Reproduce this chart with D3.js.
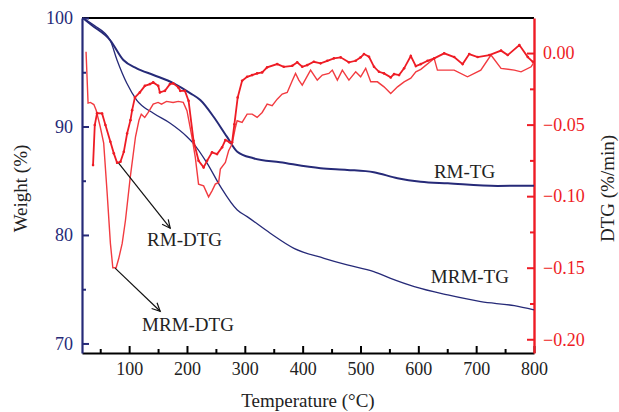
<!DOCTYPE html>
<html>
<head>
<meta charset="utf-8">
<script src="https://cdn.jsdelivr.net/npm/d3@7"></script>
<style>
  body { margin: 0; background: #fff; }
  svg text { font-family: "Liberation Serif", "Times New Roman", serif; }
</style>
</head>
<body>
<script>
// ---- data ----
const rmTgT = [20, 35, 67, 90, 113, 142, 177, 206, 223, 246, 269, 287, 315, 361, 431, 477, 523, 564, 604, 651, 737, 800]
const rmTgW = [100, 99.35, 97.97, 96.13, 95.36, 94.75, 93.98, 93.06, 92.44, 90.9, 89.06, 87.68, 87.07, 86.7, 86.15, 86.0, 85.78, 85.23, 84.91, 84.76, 84.52, 84.54]

const mrmTgT = [20, 40, 67, 79, 96, 113, 142, 171, 200, 211, 235, 258, 287, 304, 344, 385, 437, 477, 523, 552, 593, 651, 708, 766, 800]
const mrmTgW = [100, 99.3, 97.97, 96.13, 93.98, 92.44, 91.22, 90.3, 89.06, 88.45, 86.6, 84.45, 82.3, 81.69, 80.16, 78.77, 77.85, 77.24, 76.62, 76.0, 75.24, 74.47, 73.85, 73.48, 73.09]

const rmDtgT = [37.6, 40.6, 44.5, 53.2, 59, 67.6, 73.5, 79.2, 85, 90.8,
  96.5, 102.3, 105.2, 110, 118.5, 127.2, 136, 141.6, 150.3, 153.2,
  161.9, 170.5, 176.3, 185, 188.4, 196.5, 202.8, 211.4, 220.1, 228.8,
  234.7, 243.3, 252, 260.7, 266.4, 273.8, 278, 282, 287.7, 295.3,
  304, 312.7, 321.3, 330, 338.6, 356, 367.4, 382, 390.6, 399.3,
  408, 419.4, 431, 442.6, 454, 465.7, 480, 491.7, 500.3, 506,
  514.7, 523.4, 532, 540.7, 552.3, 558, 566.7, 575.4, 587, 595.7,
  604.3, 616, 627.4, 644.7, 662, 676.6, 688, 702.6, 722.7, 743,
  754.6, 774.7, 789.3, 798]
const rmDtgV = [-0.0783, -0.0503, -0.042, -0.0422, -0.0503, -0.062, -0.0701, -0.0767, -0.076, -0.069,
  -0.0562, -0.0469, -0.0399, -0.031, -0.0275, -0.0229, -0.0217, -0.0205, -0.0229, -0.0275,
  -0.0264, -0.0217, -0.0212, -0.024, -0.0264, -0.0264, -0.0334, -0.0613, -0.0753, -0.0799,
  -0.0753, -0.0694, -0.0706, -0.0659, -0.0608, -0.0624, -0.0624, -0.0497, -0.031, -0.0194,
  -0.0166, -0.0154, -0.0142, -0.0135, -0.01, -0.0077, -0.0096, -0.0089, -0.0065, -0.0096,
  -0.0084, -0.0061, -0.0072, -0.0054, -0.0037, -0.003, -0.0065, -0.0054, -0.003, -0.0007,
  -0.0026, -0.0096, -0.0131, -0.0142, -0.017, -0.0147, -0.0154, -0.0107, -0.0021, -0.0091,
  -0.0077, -0.0054, -0.0037, -0.0002, -0.0028, -0.0077, -0.0007, -0.0028, -0.0014, 0.0017,
  -0.0014, 0.0056, -0.0028, -0.0061]

const mrmDtgT = [25.5, 29, 33, 39, 43, 50, 56, 62, 67.6, 71.8,
  77.5, 82, 88, 93.6, 102, 111, 117, 121, 127, 133,
  141.6, 150, 156, 164.6, 176, 185, 193.6, 200, 208.7, 214.4,
  220, 228.8, 237.4, 243.3, 249, 254.8, 257.7, 266.4, 272, 278,
  283.7, 286.7, 295.3, 304, 312.7, 321.3, 330, 338.6, 347.3, 356,
  364.6, 373.3, 382, 387.7, 393.4, 399.3, 413.7, 425.3, 434, 445.4,
  451.3, 460, 468.6, 480, 491.7, 500.3, 509, 517.7, 529.3, 540.7,
  552.3, 564, 575.4, 587, 595.7, 604.3, 627.4, 633, 662, 685,
  708, 725.6, 743, 766, 777.6, 795, 800]
const mrmDtgV = [0.0009, -0.035, -0.0345, -0.036, -0.04, -0.0515, -0.063, -0.098, -0.133, -0.15,
  -0.15, -0.1436, -0.133, -0.117, -0.0865, -0.0585, -0.047, -0.0427, -0.045, -0.0415,
  -0.0357, -0.0345, -0.0357, -0.0338, -0.0345, -0.0338, -0.0345, -0.0403, -0.059, -0.0729,
  -0.0916, -0.0928, -0.1005, -0.0963, -0.0916, -0.0904, -0.0811, -0.0764, -0.0683, -0.0636,
  -0.052, -0.0473, -0.0485, -0.0427, -0.0427, -0.045, -0.0415, -0.0357, -0.0368, -0.0322,
  -0.0287, -0.0275, -0.0194, -0.0142, -0.0189, -0.0224, -0.0119, -0.0189, -0.0154, -0.0142,
  -0.0119, -0.0189, -0.0119, -0.0189, -0.0131, -0.0166, -0.0107, -0.0201, -0.0201, -0.0236,
  -0.0282, -0.0236, -0.0201, -0.0175, -0.0131, -0.0114, -0.0037, -0.0119, -0.0119, -0.0166,
  -0.0119, -0.0014, -0.0107, -0.0119, -0.0131, -0.0096, -0.0063]

const xTicks = [100, 200, 300, 400, 500, 600, 700, 800]
const xMinor = [50, 150, 250, 350, 450, 550, 650, 750]
const wTicks = [70, 80, 90, 100]
const wMinor = [75, 85, 95]
const dTicks = [-0.20, -0.15, -0.10, -0.05, 0.00]
const dMinor = [-0.175, -0.125, -0.075, -0.025]

// annotations: [label, arrow from T, from DTG, to T, to DTG, text T, text DTG]
const dtgNotes = [
  ['RM-DTG', 81.8, -0.0769, 171, -0.1224, 131, -0.135],
  ['MRM-DTG', 75.7, -0.1503, 153.7, -0.1804, 122.4, -0.1944]
]
// [label, T, weight]
const tgNotes = [
  ['RM-TG', 627, 85.25],
  ['MRM-TG', 621.6, 75.58]
]

// ---- chart ----
const W = 619, H = 412
const margin = { top: 18, right: 85, bottom: 59, left: 82 }
const width = W - margin.left - margin.right,
  height = H - margin.top - margin.bottom

const navy = '#262a78', red = '#ee1c25'

const svg = d3.select('body').append('svg')
  .attr('width', W)
  .attr('height', H)
  .append('g')
  .attr('transform', 'translate(' + margin.left + ',' + margin.top + ')')

const x = d3.scaleLinear().domain([18.5, 800]).range([0, width])
const yW = d3.scaleLinear().domain([69.12, 100]).range([height, 0])
const yD = d3.scaleLinear().domain([-0.2096, 0.0245]).range([height, 0])

// minor ticks
svg.append('g').attr('transform', 'translate(0,' + height + ')')
  .call(d3.axisBottom(x).tickValues(xMinor).tickSizeInner(-4).tickSizeOuter(0).tickFormat(''))
  .call(g => g.select('.domain').remove())
  .selectAll('line').attr('stroke', '#000').attr('stroke-width', 2)
svg.append('g')
  .call(d3.axisLeft(yW).tickValues(wMinor).tickSizeInner(-4).tickSizeOuter(0).tickFormat(''))
  .call(g => g.select('.domain').remove())
  .selectAll('line').attr('stroke', navy).attr('stroke-width', 2)
svg.append('g').attr('transform', 'translate(' + width + ',0)')
  .call(d3.axisRight(yD).tickValues(dMinor).tickSizeInner(-4).tickSizeOuter(0).tickFormat(''))
  .call(g => g.select('.domain').remove())
  .selectAll('line').attr('stroke', red).attr('stroke-width', 2)

// top border
svg.append('line')
  .attr('x1', 0).attr('x2', width).attr('y1', 0).attr('y2', 0)
  .attr('stroke', '#000').attr('stroke-width', 2.2)

// bottom axis
const xAxis = svg.append('g').attr('transform', 'translate(0,' + height + ')')
  .call(d3.axisBottom(x).tickValues(xTicks).tickSizeInner(-7).tickSizeOuter(0).tickPadding(9))
xAxis.select('.domain').attr('stroke', '#000').attr('stroke-width', 2.2)
xAxis.selectAll('line').attr('stroke', '#000').attr('stroke-width', 2)
xAxis.selectAll('text').attr('fill', '#222').attr('font-size', 18)
  .attr('font-family', '"Liberation Serif", serif')

// left axis
const wAxis = svg.append('g')
  .call(d3.axisLeft(yW).tickValues(wTicks).tickSizeInner(-7).tickSizeOuter(0).tickPadding(9))
wAxis.select('.domain').attr('stroke', navy).attr('stroke-width', 2.2)
wAxis.selectAll('line').attr('stroke', navy).attr('stroke-width', 2)
wAxis.selectAll('text').attr('fill', navy).attr('font-size', 18)
  .attr('font-family', '"Liberation Serif", serif')

// right axis
const dAxis = svg.append('g').attr('transform', 'translate(' + width + ',0)')
  .call(d3.axisRight(yD).tickValues(dTicks).tickSizeInner(-7).tickSizeOuter(0).tickPadding(9)
    .tickFormat(d3.format('.2f')))
dAxis.select('.domain').attr('stroke', red).attr('stroke-width', 2.4)
dAxis.selectAll('line').attr('stroke', red).attr('stroke-width', 2)
dAxis.selectAll('text').attr('fill', red).attr('font-size', 18)
  .attr('font-family', '"Liberation Serif", serif')

// axis titles
svg.append('text')
  .attr('transform', 'translate(-55,' + (height / 2 + 3) + ') rotate(-90)')
  .attr('text-anchor', 'middle')
  .attr('font-size', 19)
  .attr('fill', '#222')
  .text('Weight (%)')

svg.append('text')
  .attr('transform', 'translate(' + (width + 80) + ',' + (height / 2 + 3) + ') rotate(-90)')
  .attr('text-anchor', 'middle')
  .attr('font-size', 19)
  .attr('fill', '#222')
  .text('DTG (%/min)')

svg.append('text')
  .attr('x', width / 2)
  .attr('y', height + 54)
  .attr('text-anchor', 'middle')
  .attr('font-size', 19)
  .attr('fill', '#222')
  .text('Temperature (°C)')

// curves
const lineW = d3.line().x(d => x(d[0])).y(d => yW(d[1])).curve(d3.curveMonotoneX)
const lineD = d3.line().x(d => x(d[0])).y(d => yD(d[1]))

const plot = svg.append('g')

plot.append('path').datum(d3.zip(mrmTgT, mrmTgW))
  .attr('d', lineW).attr('fill', 'none').attr('stroke', navy).attr('stroke-width', 1.3)
plot.append('path').datum(d3.zip(rmTgT, rmTgW))
  .attr('d', lineW).attr('fill', 'none').attr('stroke', navy).attr('stroke-width', 2)

plot.append('path').datum(d3.zip(mrmDtgT, mrmDtgV))
  .attr('d', lineD).attr('fill', 'none').attr('stroke', '#f23b40').attr('stroke-width', 1.4)

const rmDtg = d3.zip(rmDtgT, rmDtgV)
plot.append('path').datum(rmDtg)
  .attr('d', lineD).attr('fill', 'none').attr('stroke', red).attr('stroke-width', 1.8)
plot.selectAll('.dot').data(rmDtg).enter().append('circle')
  .attr('class', 'dot')
  .attr('cx', d => x(d[0]))
  .attr('cy', d => yD(d[1]))
  .attr('r', 1.3)
  .attr('fill', red)

// annotations
function arrow(x1, y1, x2, y2) {
  const a = Math.atan2(y2 - y1, x2 - x1), len = 9, spread = 0.45
  svg.append('line')
    .attr('x1', x1).attr('y1', y1).attr('x2', x2).attr('y2', y2)
    .attr('stroke', '#111').attr('stroke-width', 1.2)
  svg.append('path')
    .attr('d', 'M' + (x2 - len * Math.cos(a - spread)) + ',' + (y2 - len * Math.sin(a - spread)) +
      'L' + x2 + ',' + y2 +
      'L' + (x2 - len * Math.cos(a + spread)) + ',' + (y2 - len * Math.sin(a + spread)))
    .attr('fill', 'none').attr('stroke', '#111').attr('stroke-width', 1.2)
}

dtgNotes.forEach(n => {
  arrow(x(n[1]), yD(n[2]), x(n[3]), yD(n[4]))
  svg.append('text')
    .attr('x', x(n[5])).attr('y', yD(n[6]))
    .attr('font-size', 19).attr('fill', '#222')
    .text(n[0])
})

tgNotes.forEach(n => {
  svg.append('text')
    .attr('x', x(n[1])).attr('y', yW(n[2]))
    .attr('font-size', 19).attr('fill', '#222')
    .text(n[0])
})
</script>
</body>
</html>
